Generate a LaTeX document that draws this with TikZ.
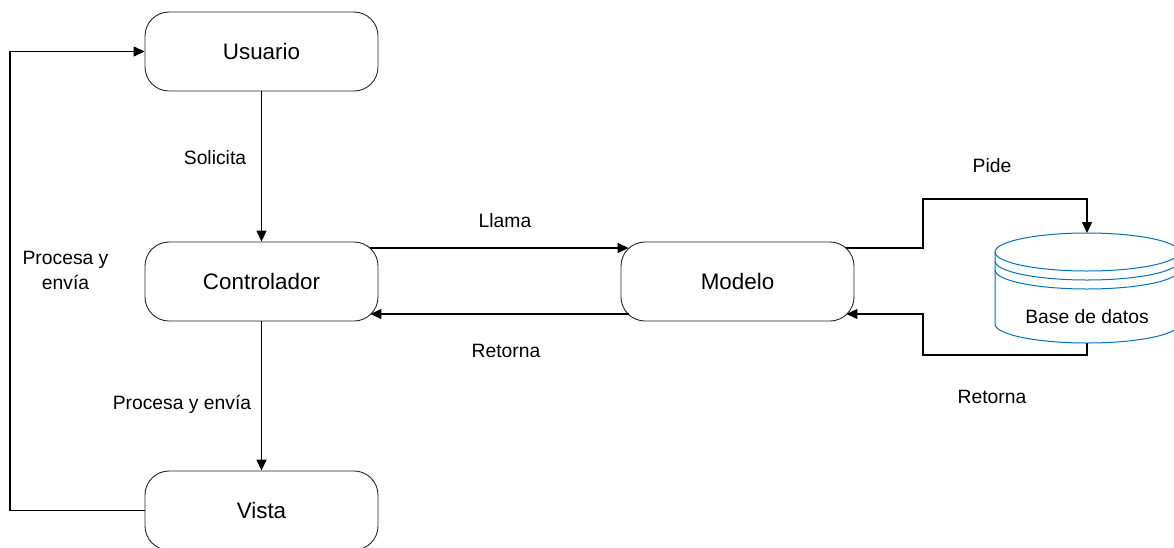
\documentclass[tikz,border=0pt]{standalone}
\usepackage{fontspec}
\setmainfont{Liberation Sans}
\usetikzlibrary{arrows.meta}
\definecolor{dbblue}{RGB}{0,112,192}
\begin{document}
\begin{tikzpicture}[x=1pt,y=-1pt,
  box/.style={draw=black!85,line width=0.9pt,rounded corners=24pt,minimum width=233pt,minimum height=79pt,inner sep=0pt,font=\fontsize{22.4}{27}\selectfont},
  lbl/.style={inner sep=0pt,font=\fontsize{19.3}{25}\selectfont,align=center},
  arr/.style={line width=1.3pt,-{Triangle[length=11pt,width=10pt]}},
  ln/.style={line width=1.3pt},
  dbc/.style={draw=dbblue,line width=1pt}]
\useasboundingbox (0,0) rectangle (1174,547);
\clip (0,0) rectangle (1174,547);
% nodes
\node[box] (usr) at (261.5,51.5) {Usuario};
\node[box] (ctrl) at (261.5,281.5) {Controlador};
\node[box] (vista) at (261.5,510.5) {Vista};
\node[box] (mod) at (737.5,281.5) {Modelo};
% database
\coordinate (dbtop) at (1087,233);
\coordinate (dbbot) at (1087,343);
\draw[dbc] (995,252) -- (995,324) arc[start angle=180,end angle=360,x radius=92pt,y radius=19pt] -- (1179,252);
\draw[dbc] (1087,252) ellipse[x radius=92pt,y radius=19pt];
\draw[dbc] (995,261) arc[start angle=180,end angle=360,x radius=92pt,y radius=19pt];
\draw[dbc] (995,270) arc[start angle=180,end angle=360,x radius=92pt,y radius=19pt];
\node[lbl] (db) at (1087,317) {Base de datos};
% connectors
\draw[arr] (usr) -- (ctrl);
\draw[arr] (ctrl) -- (vista);
\coordinate (fb) at (10,510.5);
\draw[arr] (vista.west) -- (fb) |- (usr.west);
\draw[arr] ([yshift=33.5pt,xshift=-8pt]ctrl.east) -- ([yshift=33.5pt,xshift=8pt]mod.west);
\draw[arr] ([yshift=-32.5pt,xshift=8pt]mod.west) -- ([yshift=-32.5pt,xshift=-8pt]ctrl.east);
\coordinate (p1) at (923,199);
\coordinate (p2) at (923,314);
\draw[arr] ([yshift=33.5pt,xshift=-8pt]mod.east) -| (p1) -| (dbtop);
\draw[arr] (dbbot) -- (1087,355) -| (p2) -- ([yshift=-32.5pt,xshift=-8pt]mod.east);
% labels
\node[lbl] (lsol) at (215,158) {Solicita};
\node[lbl] (lpe1) at (182,404) {Procesa y envía};
\node[lbl] (lpe2) at (65.5,270) {Procesa y\\envía};
\node[lbl] (lllama) at (505,221) {Llama};
\node[lbl] (lret1) at (506,351) {Retorna};
\node[lbl] (lpide) at (992,166) {Pide};
\node[lbl] (lret2) at (992,397) {Retorna};
\end{tikzpicture}
\end{document}
